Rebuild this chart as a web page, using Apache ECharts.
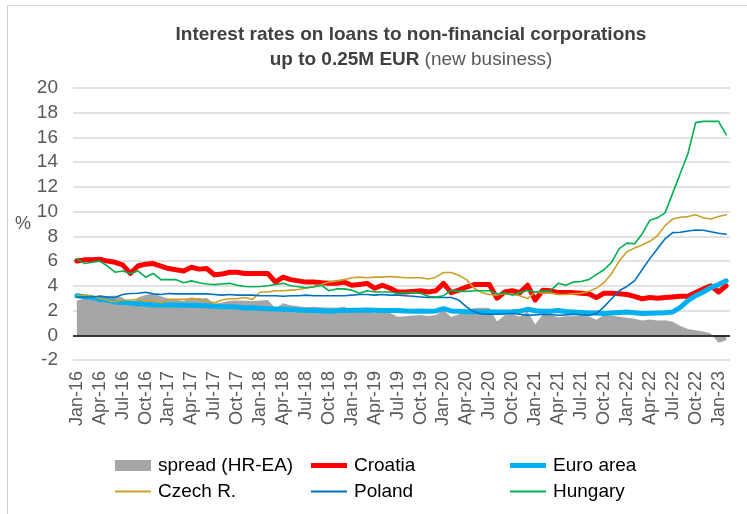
<!DOCTYPE html>
<html>
<head>
<meta charset="utf-8">
<script src="https://cdn.jsdelivr.net/npm/echarts@6/dist/echarts.min.js"></script>
<style>
  html, body { margin: 0; padding: 0; background: #fff; }
  #chart { width: 747px; height: 514px; }
</style>
</head>
<body>
<div id="chart"></div>
<script>
// Monthly observations, Jan-16 .. Feb-23 (86 months)
const monthNames = ['Jan','Feb','Mar','Apr','May','Jun','Jul','Aug','Sep','Oct','Nov','Dec'];
const categories = [];
for (let y = 16; y <= 23; y++) {
  for (let m = 0; m < 12; m++) {
    if (y === 23 && m > 1) break;
    categories.push(monthNames[m] + '-' + y);
  }
}

const croatia = [
  6.0, 6.1, 6.1, 6.15, 6.0, 5.9, 5.7, 5.0, 5.6, 5.75, 5.8, 5.6,
  5.4, 5.3, 5.2, 5.5, 5.35, 5.4, 4.9, 4.95, 5.1, 5.1, 5.0, 5.0,
  5.0, 5.0, 4.3, 4.7, 4.5, 4.4, 4.3, 4.3, 4.25, 4.2, 4.2, 4.3,
  4.05, 4.1, 4.2, 3.8, 4.05, 3.8, 3.5, 3.5, 3.55, 3.6, 3.5, 3.6,
  4.2, 3.45, 3.65, 3.9, 4.1, 4.1, 4.1, 3.0, 3.5, 3.6, 3.45, 4.05,
  2.85, 3.65, 3.6, 3.45, 3.45, 3.45, 3.4, 3.35, 3.05, 3.4, 3.4, 3.35,
  3.3, 3.15, 2.95, 3.05, 3.0, 3.05, 3.1, 3.15, 3.15, 3.45, 3.75, 4.0,
  3.5, 4.0
];

const euroArea = [
  3.2, 3.12, 3.05, 2.9, 2.85, 2.68, 2.65, 2.6, 2.55, 2.5, 2.45, 2.45,
  2.45, 2.45, 2.43, 2.42, 2.4, 2.38, 2.35, 2.3, 2.3, 2.28, 2.2, 2.22,
  2.18, 2.15, 2.12, 2.1, 2.08, 2.05, 2.03, 2.0, 1.98, 1.95, 1.98, 2.0,
  2.02, 2.03, 2.05, 2.02, 2.0, 2.0, 2.0, 1.97, 1.95, 1.97, 1.95, 1.97,
  2.15, 1.97, 1.95, 1.9, 1.9, 1.88, 1.9, 1.88, 1.88, 1.9, 1.95, 2.1,
  1.98, 1.95, 1.95, 2.0, 1.92, 1.89, 1.85, 1.81, 1.8, 1.76, 1.8, 1.85,
  1.89, 1.82, 1.76, 1.78, 1.81, 1.83, 1.89, 2.25, 2.8, 3.2, 3.5, 3.85,
  4.1, 4.4
];

const spread = [
  2.8, 2.98, 3.05, 3.25, 3.15, 3.22, 3.05, 2.4, 3.05, 3.25, 3.35, 3.15,
  2.95, 2.85, 2.77, 3.08, 2.95, 3.02, 2.55, 2.65, 2.8, 2.82, 2.8, 2.78,
  2.82, 2.85, 2.18, 2.6, 2.42, 2.35, 2.27, 2.3, 2.27, 2.25, 2.22, 2.3,
  2.03, 2.07, 2.15, 1.78, 2.05, 1.8, 1.5, 1.53, 1.6, 1.63, 1.55, 1.63,
  2.05, 1.48, 1.7, 2.0, 2.2, 2.22, 2.2, 1.12, 1.62, 1.7, 1.5, 1.95,
  0.87, 1.7, 1.65, 1.45, 1.53, 1.56, 1.55, 1.54, 1.25, 1.64, 1.6, 1.5,
  1.41, 1.33, 1.19, 1.27, 1.19, 1.22, 1.1, 0.75, 0.5, 0.4, 0.3, 0.15,
  -0.6, -0.4
];

const czech = [
  3.15, 3.25, 3.15, 3.0, 2.85, 2.7, 2.85, 2.85, 2.9, 2.75, 2.85, 2.6,
  2.9, 2.9, 2.9, 2.95, 2.95, 2.75, 2.62, 2.85, 2.95, 2.95, 3.05, 2.9,
  3.5, 3.5, 3.6, 3.6, 3.65, 3.7, 3.8, 3.95, 4.1, 4.3, 4.4, 4.5,
  4.65, 4.7, 4.65, 4.7, 4.7, 4.75, 4.7, 4.65, 4.65, 4.65, 4.55, 4.7,
  5.08, 5.08, 4.85, 4.5, 3.8, 3.45, 3.3, 3.25, 3.38, 3.3, 3.2, 2.97,
  3.5, 3.4, 3.43, 3.3, 3.3, 3.35, 3.4, 3.55, 3.8, 4.25, 5.0, 6.0,
  6.75, 7.05, 7.3, 7.6, 8.05, 8.87, 9.4, 9.55, 9.6, 9.75, 9.5, 9.4,
  9.6, 9.75
];

const poland = [
  3.1, 3.1, 3.1, 3.15, 3.1, 3.05, 3.3, 3.38, 3.4, 3.48, 3.35, 3.3,
  3.38, 3.35, 3.35, 3.35, 3.35, 3.35, 3.3, 3.25, 3.3, 3.25, 3.25, 3.25,
  3.2, 3.2, 3.2, 3.15, 3.2, 3.2, 3.25, 3.2, 3.2, 3.2, 3.2, 3.2,
  3.25, 3.3, 3.3, 3.25, 3.3, 3.25, 3.25, 3.2, 3.15, 3.1, 3.05, 3.08,
  3.05, 3.05, 2.85, 2.3, 1.9, 1.72, 1.7, 1.7, 1.72, 1.76, 1.7, 1.62,
  1.65, 1.7, 1.68, 1.62, 1.65, 1.7, 1.65, 1.62, 1.75, 2.3, 2.95, 3.6,
  3.95, 4.4, 5.3, 6.2, 7.0, 7.8, 8.3, 8.33, 8.43, 8.52, 8.5, 8.38,
  8.25, 8.17
];

const hungary = [
  6.2, 5.8, 5.9, 6.0, 5.6, 5.1, 5.2, 5.0, 5.2, 4.7, 5.0, 4.5,
  4.5, 4.5, 4.25, 4.4, 4.25, 4.15, 4.1, 4.15, 4.2, 4.05, 3.95, 3.92,
  3.95, 4.0, 4.1, 4.2, 4.0, 3.92, 3.85, 3.9, 4.05, 3.6, 3.75, 3.75,
  3.65, 3.4, 3.6, 3.5, 3.5, 3.5, 3.4, 3.45, 3.45, 3.4, 3.15, 3.1,
  3.2, 3.65, 3.55, 3.55, 3.6, 3.6, 3.6, 3.35, 3.4, 3.25, 3.45, 3.6,
  3.5, 3.55, 3.6, 4.2, 4.05, 4.3, 4.35, 4.5, 4.9, 5.3, 5.9, 7.0,
  7.45, 7.4, 8.2, 9.3, 9.5, 9.9, 11.5, 13.1, 14.7, 17.2, 17.3, 17.3,
  17.3, 16.2
];

const FONT = "'Liberation Sans', Arial, sans-serif";
const AXIS_GREY = '#595959';

const COLORS = {
  spread: '#A6A6A6',
  croatia: '#FF0000',
  euro: '#00B0F0',
  czech: '#C9A227',
  poland: '#0070C0',
  hungary: '#00B050'
};

function legendItem(name, color, left, top, h) {
  return {
    data: [{ name: name, icon: 'rect', itemStyle: { color: color } }],
    left: left, top: top,
    itemWidth: 36, itemHeight: h, itemGap: 5,
    selectedMode: false,
    textStyle: { fontFamily: FONT, fontSize: 19, color: '#000', padding: [0, 0, 0, 2] }
  };
}

function lineSeries(name, data, color, width) {
  return {
    name: name, type: 'line', data: data,
    symbol: 'none', smooth: false,
    lineStyle: { color: color, width: width, join: 'round', cap: 'round' },
    itemStyle: { color: color },
    emphasis: { disabled: true }
  };
}

const chart = echarts.init(document.getElementById('chart'), null, { renderer: 'canvas' });

chart.setOption({
  animation: false,
  backgroundColor: '#fff',
  title: {
    left: 406, top: 17, textAlign: 'center',
    text: '{b|Interest rates on loans to non-financial corporations}\n{b|up to 0.25M EUR} {n|(new business)}',
    textStyle: {
      rich: {
        b: { fontFamily: FONT, fontSize: 19, fontWeight: 'bold', color: '#404040', lineHeight: 25 },
        n: { fontFamily: FONT, fontSize: 19, fontWeight: 'normal', color: '#595959', lineHeight: 25 }
      }
    }
  },
  legend: [
    legendItem('spread (HR-EA)', COLORS.spread, 110, 451, 11),
    legendItem('Croatia', COLORS.croatia, 306, 451, 5),
    legendItem('Euro area', COLORS.euro, 505, 451, 5),
    legendItem('Czech R.', COLORS.czech, 110, 477, 2),
    legendItem('Poland', COLORS.poland, 306, 477, 2),
    legendItem('Hungary', COLORS.hungary, 505, 477, 2)
  ],
  grid: { left: 73, right: 17, top: 88, bottom: 154, containLabel: false },
  xAxis: {
    type: 'category',
    data: categories,
    boundaryGap: true,
    axisLine: { show: false },
    axisTick: { show: false },
    axisLabel: {
      interval: 2, rotate: 90, margin: 11,
      fontFamily: FONT, fontSize: 18, color: AXIS_GREY
    },
    splitLine: { show: false }
  },
  yAxis: {
    type: 'value',
    min: -2, max: 20, interval: 2,
    axisLine: { show: false },
    axisTick: { show: false },
    axisLabel: { margin: 15, fontFamily: FONT, fontSize: 19, color: AXIS_GREY },
    splitLine: { lineStyle: { color: '#D9D9D9', width: 1.5 } }
  },
  series: [
    {
      name: 'spread (HR-EA)', type: 'line', data: spread,
      symbol: 'none', smooth: false,
      lineStyle: { width: 0 },
      itemStyle: { color: COLORS.spread },
      areaStyle: { color: COLORS.spread, opacity: 1 },
      emphasis: { disabled: true },
      markLine: {
        silent: true, symbol: 'none',
        label: { show: false },
        lineStyle: { color: '#000', width: 1.5, type: 'solid' },
        data: [{ yAxis: 0 }]
      }
    },
    lineSeries('Croatia', croatia, COLORS.croatia, 5),
    lineSeries('Euro area', euroArea, COLORS.euro, 5),
    lineSeries('Czech R.', czech, COLORS.czech, 1.6),
    lineSeries('Poland', poland, COLORS.poland, 1.6),
    lineSeries('Hungary', hungary, COLORS.hungary, 1.6)
  ],
  graphic: [
    {
      type: 'text', left: 15, top: 215, silent: true,
      style: { text: '%', fontFamily: FONT, fontSize: 18, fill: AXIS_GREY }
    },
    {
      type: 'polyline', silent: true,
      shape: { points: [[7.5, 514], [7.5, 5.5], [747, 5.5]] },
      style: { stroke: '#D0D0D0', lineWidth: 1, fill: null }
    }
  ]
});
</script>
</body>
</html>
